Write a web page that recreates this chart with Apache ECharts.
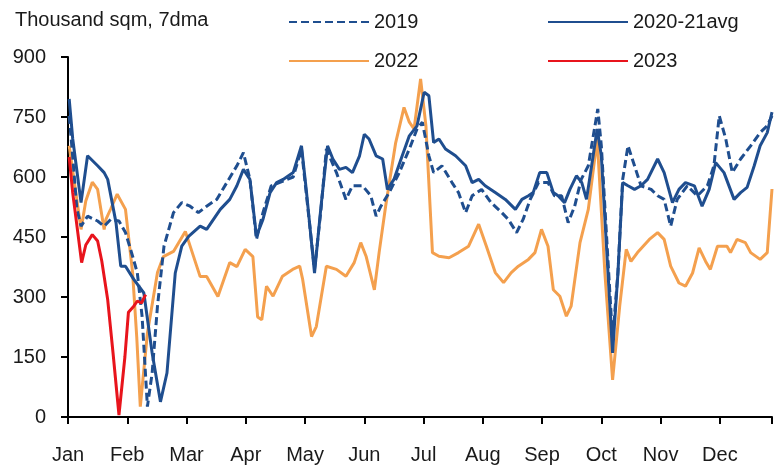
<!DOCTYPE html>
<html>
<head>
<meta charset="utf-8">
<script src="https://cdn.jsdelivr.net/npm/echarts@6/dist/echarts.min.js"></script>
<style>
html,body{margin:0;padding:0;background:#fff;}
#chart{width:775px;height:472px;}
</style>
</head>
<body>
<div id="chart"></div>
<script>
// x positions are in months since Jan 1 (0 = Jan 1, 1 = Feb 1, ...)
var monthLabels = ['Jan','Feb','Mar','Apr','May','Jun','Jul','Aug','Sep','Oct','Nov','Dec'];
var yTicks = [0,150,300,450,600,750,900];

var x2019 = [0.02,0.08,0.15,0.22,0.33,0.50,0.61,0.72,0.86,0.97,1.09,1.17,1.25,1.34,1.42,1.51,1.62,1.78,1.92,2.06,2.20,2.34,2.51,2.68,2.85,2.96,3.07,3.18,3.29,3.43,3.63,3.80,3.94,4.02,4.16,4.27,4.36,4.53,4.69,4.80,4.97,5.11,5.20,5.28,5.42,5.59,5.76,5.89,5.98,6.09,6.17,6.31,6.48,6.59,6.71,6.82,6.98,7.14,7.32,7.43,7.57,7.68,7.80,7.94,8.10,8.21,8.33,8.44,8.55,8.66,8.78,8.94,9.00,9.19,9.28,9.36,9.45,9.56,9.67,9.84,9.95,10.06,10.17,10.28,10.45,10.62,10.79,10.90,10.99,11.10,11.21,11.35,11.52,11.68,11.80,11.88];
var v2019 = [753,650,520,477,502,490,477,494,490,461,402,360,252,26,110,277,427,511,536,527,511,527,544,586,628,661,594,444,511,578,590,600,670,560,369,520,670,611,544,578,578,553,502,527,561,611,670,720,737,653,611,628,586,561,511,553,569,536,511,494,461,494,544,586,586,553,553,486,527,594,628,770,678,193,361,594,678,628,578,569,553,544,477,544,578,553,578,628,753,695,611,645,678,711,728,753];

var xAvg = [0.02,0.08,0.22,0.33,0.50,0.61,0.67,0.81,0.89,0.97,1.11,1.28,1.42,1.56,1.67,1.81,1.92,2.04,2.23,2.34,2.57,2.73,2.85,2.96,3.07,3.18,3.29,3.41,3.52,3.63,3.80,3.94,4.02,4.16,4.27,4.38,4.47,4.58,4.69,4.80,4.92,5.00,5.08,5.20,5.31,5.39,5.50,5.64,5.76,5.89,6.01,6.09,6.17,6.26,6.37,6.54,6.71,6.82,6.93,7.04,7.21,7.38,7.55,7.66,7.77,7.85,7.96,8.08,8.19,8.27,8.38,8.47,8.58,8.67,8.75,8.93,9.00,9.19,9.28,9.36,9.45,9.56,9.67,9.78,9.95,10.06,10.20,10.31,10.42,10.57,10.70,10.82,10.93,11.07,11.24,11.35,11.46,11.58,11.68,11.80,11.88];
var vAvg = [795,695,536,653,628,611,594,486,377,377,344,310,160,38,110,360,427,452,477,469,519,544,578,619,594,452,494,561,586,594,611,678,569,360,527,678,645,619,624,611,653,707,695,653,645,569,594,653,703,728,812,803,686,695,670,653,628,586,594,578,561,544,519,544,553,561,611,611,561,553,536,569,603,586,544,720,653,160,360,586,578,569,578,594,645,611,536,569,586,578,527,569,636,611,544,561,574,628,678,711,762];

var x2022 = [0.02,0.22,0.30,0.41,0.50,0.61,0.64,0.72,0.83,0.97,1.09,1.16,1.22,1.34,1.51,1.61,1.78,1.98,2.23,2.34,2.53,2.73,2.85,2.99,3.12,3.20,3.27,3.35,3.46,3.62,3.79,3.91,3.96,4.11,4.19,4.36,4.53,4.69,4.83,4.94,5.03,5.17,5.25,5.36,5.53,5.67,5.76,5.84,5.95,6.04,6.15,6.26,6.43,6.59,6.76,6.93,7.06,7.21,7.35,7.48,7.60,7.77,7.88,7.99,8.10,8.19,8.30,8.41,8.49,8.64,8.78,8.93,9.06,9.19,9.31,9.42,9.50,9.61,9.81,9.95,10.06,10.17,10.31,10.42,10.54,10.65,10.76,10.84,10.96,11.12,11.18,11.29,11.43,11.52,11.68,11.80,11.88];
var v2022 = [678,469,540,587,569,469,494,520,557,519,361,200,26,210,361,401,414,464,351,351,301,386,376,419,401,250,243,327,302,352,369,377,344,201,226,377,369,352,386,436,402,318,411,527,686,774,737,720,845,728,411,402,398,411,427,482,427,361,336,361,377,394,411,469,427,318,302,252,277,436,519,695,360,93,277,419,389,411,444,461,444,377,335,327,360,423,389,369,427,427,411,444,436,411,394,411,570];

var x2023 = [0.02,0.08,0.23,0.30,0.41,0.50,0.57,0.67,0.76,0.86,0.96,1.02,1.11,1.17,1.24,1.31];
var v2023 = [650,560,386,430,456,440,390,293,160,5,150,262,277,290,285,306];

function zip(xs, vs){ return xs.map(function(x,i){ return [x, vs[i]]; }); }

var FONT = '"Liberation Sans Narrow","Arial Narrow","Liberation Sans",sans-serif';
var FS = 20;
var BLUE = '#1f4e8f', ORANGE = '#f4a04e', RED = '#e8141c';

var chart = echarts.init(document.getElementById('chart'), null, {renderer:'canvas'});

function leg(name, left, top){
  return {
    data:[name], left:left, top:top, orient:'horizontal',
    itemWidth:80, itemHeight:14, padding:0,
    itemStyle:{opacity:0},
    textStyle:{fontFamily:FONT, fontSize:FS, color:'#1a1a1a'},
    selectedMode:false
  };
}

chart.setOption({
  animation:false,
  title:{text:'Thousand sqm, 7dma', left:15, top:10, padding:0,
    textStyle:{fontFamily:FONT, fontSize:FS, fontWeight:'normal', color:'#1a1a1a'}},
  legend:[
    leg('2019', 288, 12),
    leg('2020-21avg', 547, 12),
    leg('2022', 288, 51),
    leg('2023', 547, 51)
  ],
  grid:{left:68, right:0, top:57, bottom:55, containLabel:false},
  xAxis:{
    type:'value', min:0, max:11.88, interval:1,
    axisLine:{show:true, lineStyle:{color:'#000', width:2}},
    axisTick:{show:true, length:7, lineStyle:{color:'#000', width:2}},
    splitLine:{show:false},
    axisLabel:{margin:28, fontFamily:FONT, fontSize:FS, color:'#1a1a1a',
      formatter:function(v){ return (Math.abs(v-Math.round(v))<1e-6 && monthLabels[Math.round(v)]) ? monthLabels[Math.round(v)] : ''; }}
  },
  yAxis:{
    type:'value', min:yTicks[0], max:yTicks[yTicks.length-1], interval:150,
    axisLine:{show:true, lineStyle:{color:'#000', width:2}},
    axisTick:{show:true, length:7, lineStyle:{color:'#000', width:2}},
    splitLine:{show:false},
    axisLabel:{margin:22, fontFamily:FONT, fontSize:FS, color:'#1a1a1a'}
  },
  series:[
    {name:'2022', type:'line', data:zip(x2022,v2022), showSymbol:false, symbol:'none', z:2,
      lineStyle:{color:ORANGE, width:3}, itemStyle:{color:ORANGE}},
    {name:'2020-21avg', type:'line', data:zip(xAvg,vAvg), showSymbol:false, symbol:'none', z:3,
      lineStyle:{color:BLUE, width:3}, itemStyle:{color:BLUE}},
    {name:'2019', type:'line', data:zip(x2019,v2019), showSymbol:false, symbol:'none', z:4,
      lineStyle:{color:BLUE, width:3, type:[8,4]}, itemStyle:{color:BLUE}},
    {name:'2023', type:'line', data:zip(x2023,v2023), showSymbol:false, symbol:'none', z:5,
      lineStyle:{color:RED, width:3}, itemStyle:{color:RED}}
  ]
});
</script>
</body>
</html>
